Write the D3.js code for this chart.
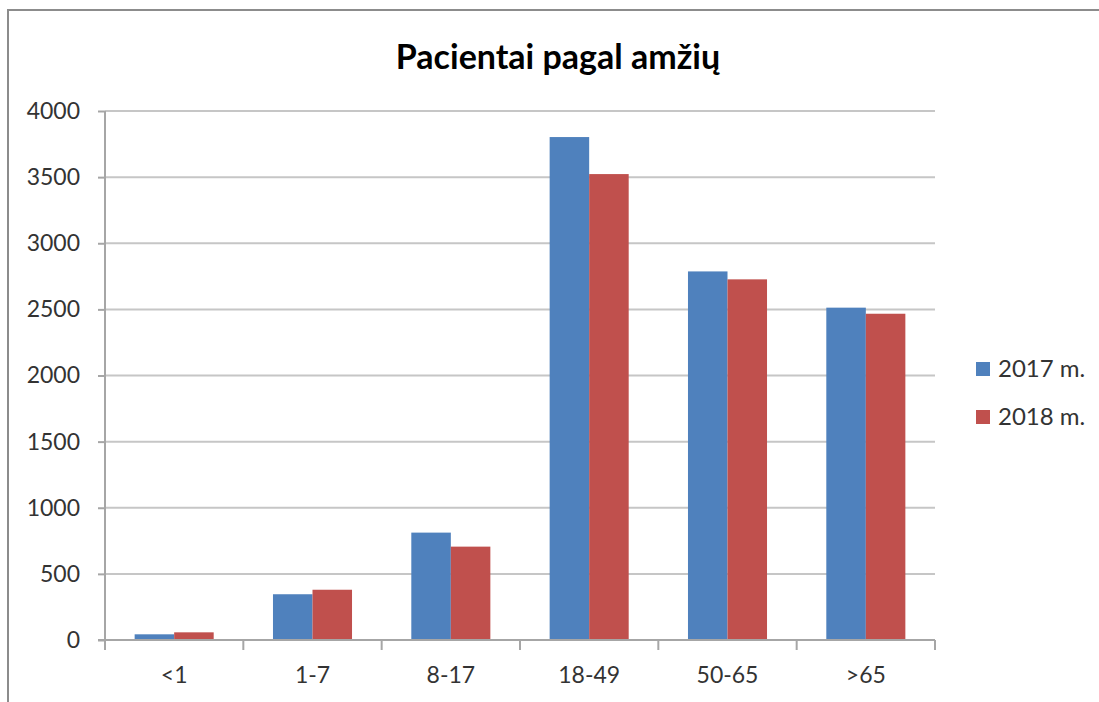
<!DOCTYPE html>
<html><head><meta charset="utf-8">
<script src="https://cdn.jsdelivr.net/npm/d3@7"></script>
<style>body{margin:0;background:#fff;} svg{display:block;}</style>
</head><body>
<svg id="c" width="1099" height="702"></svg>
<script>
const categories = ["<1", "1-7", "8-17", "18-49", "50-65", ">65"];
const seriesNames = ["2017 m.", "2018 m."];
const values2017 = [43, 346, 812, 3803, 2787, 2513];
const values2018 = [58, 380, 706, 3523, 2727, 2467];
const yTicks = [0, 500, 1000, 1500, 2000, 2500, 3000, 3500, 4000];
const colors = ["#4F81BD", "#C0504D"];
const title = "Pacientai pagal amžių";

const svg = d3.select("#c");
const font = "Lato, 'Open Sans', sans-serif";
const m = {left: 105, right: 935, top: 111, bottom: 640};

// outer frame
svg.append("path").attr("d", "M8,702 L8,10 L1099,10").attr("fill", "none")
  .attr("stroke", "#8c8c8c").attr("stroke-width", 2);

const x = d3.scaleBand().domain(categories).range([m.left, m.right]).paddingInner(0).paddingOuter(0);
const xs = d3.scaleBand().domain(seriesNames).range([0, x.bandwidth()]).paddingInner(0).paddingOuter(0.75);
const y = d3.scaleLinear().domain([0, 4000]).range([m.bottom, m.top]);

// gridlines
svg.append("g").selectAll("line").data(yTicks.filter(d => d > 0)).join("line")
  .attr("x1", m.left).attr("x2", m.right).attr("y1", d => y(d)).attr("y2", d => y(d))
  .attr("stroke", "#c6c6c6").attr("stroke-width", 2);

// bars
const data = categories.map((c, i) => ({c, v: [values2017[i], values2018[i]]}));
const g = svg.append("g");
g.selectAll("g").data(data).join("g")
  .attr("transform", d => `translate(${x(d.c)},0)`)
  .selectAll("rect").data(d => d.v.map((v, j) => ({name: seriesNames[j], v, j}))).join("rect")
  .attr("x", d => xs(d.name)).attr("width", xs.bandwidth())
  .attr("y", d => y(d.v)).attr("height", d => y(0) - y(d.v))
  .attr("fill", d => colors[d.j]);

// y axis
const ya = svg.append("g").attr("transform", `translate(${m.left},0)`)
  .call(d3.axisLeft(y).tickValues(yTicks).tickSize(7).tickPadding(18).tickFormat(d3.format("d")));
ya.select(".domain").attr("stroke", "#a6a6a6").attr("stroke-width", 2).attr("d", `M0,${m.top}V${m.bottom}`);
ya.selectAll(".tick line").attr("stroke", "#a6a6a6").attr("stroke-width", 2);
ya.selectAll(".tick text").attr("font-family", font).attr("font-size", 23).attr("fill", "#333");

// x axis
const xa = svg.append("g").attr("transform", `translate(0,${m.bottom})`)
  .call(d3.axisBottom(x).tickSize(0).tickPadding(27));
xa.select(".domain").attr("stroke", "#a6a6a6").attr("stroke-width", 2).attr("d", `M${m.left-7},0H${m.right}`);
xa.selectAll(".tick text").attr("font-family", font).attr("font-size", 23).attr("fill", "#333");
const bounds = categories.map(c => x(c)).concat([x(categories[categories.length-1]) + x.bandwidth()]);
xa.append("g").selectAll("line").data(bounds).join("line")
  .attr("x1", d => d).attr("x2", d => d).attr("y1", 0).attr("y2", 10)
  .attr("stroke", "#a6a6a6").attr("stroke-width", 2);

// title
svg.append("text").attr("x", 558).attr("y", 69).attr("text-anchor", "middle")
  .attr("font-family", font).attr("font-weight", "bold").attr("font-size", 34).attr("fill", "#000")
  .text(title);

// legend
const lg = svg.append("g").selectAll("g").data(seriesNames).join("g")
  .attr("transform", (d, i) => `translate(976,${362 + i * 48})`);
lg.append("rect").attr("width", 14).attr("height", 14).attr("fill", (d, i) => colors[i]);
lg.append("text").attr("x", 22).attr("y", 7).attr("dy", "0.35em")
  .attr("font-family", font).attr("font-size", 24).attr("fill", "#333").text(d => d);
</script>
</body></html>
